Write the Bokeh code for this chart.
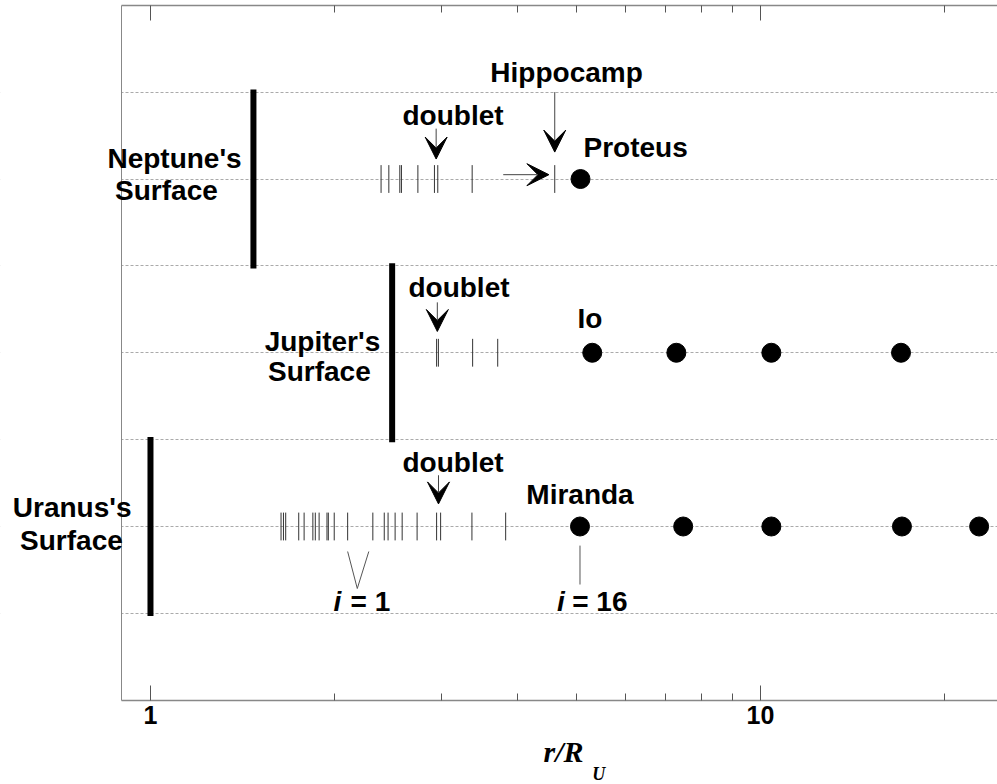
from bokeh.plotting import figure
from bokeh.models import (Range1d, FixedTicker, LogAxis, Label, Arrow, VeeHead,
                          ColumnDataSource, BoxAnnotation)
from bokeh.embed import file_html
from bokeh.resources import INLINE

# Orbital radii in units of the planet radius (log scale)
uranus_rings = [1.637, 1.652, 1.666, 1.750, 1.786, 1.846, 1.863, 1.890, 1.947,
                1.957, 2.001, 2.105, 2.315, 2.417, 2.452, 2.518, 2.586, 2.736,
                2.945, 2.990, 3.365, 3.822]
uranus_moons = [5.06, 7.47, 10.42, 17.06, 22.83]
jupiter_rings = [2.945, 2.965, 3.374, 3.709]
jupiter_moons = [5.30, 7.28, 10.42, 17.0]
neptune_rings = [2.388, 2.459, 2.563, 2.579, 2.744, 2.921, 2.958, 3.368, 4.60]
neptune_moons = [5.07]

planet_row = [0, 2, 4]
surface_r = [1.0, 2.49, 1.475]

doublet_r = [2.966, 2.953, 2.94]
hippocamp_r = 4.60

# plotted extent of the axes
R_MIN, R_MAX = 0.896, 30.0
ROW_MIN, ROW_MAX = -2, 6

TICK_HALF = 0.16
BAR_HALF = 1.03
FONT = "Liberation Sans"
FS = "28px"
DY = 0.11   # baseline tweak for all annotation text

p = figure(width=997, height=784, x_axis_type="log",
           x_range=Range1d(0.5677, 24.47), y_range=Range1d(-2.97, 6.055),
           output_backend="svg", toolbar_location=None,
           min_border_left=0, min_border_right=0,
           min_border_top=0, min_border_bottom=0)
p.outline_line_color = None
p.background_fill_color = "white"
p.border_fill_color = "white"

# grid: dashed row centres and row separators
p.xgrid.visible = False
p.ygrid.ticker = FixedTicker(ticks=[-1, 0, 1, 2, 3, 4, 5])
p.ygrid.grid_line_color = "#aaaaaa"
p.ygrid.grid_line_dash = "3 2"
p.ygrid.grid_line_width = 1
# blank the margin left of the axis
p.add_layout(BoxAnnotation(left=0.3, right=R_MIN, fill_color="white", fill_alpha=1,
                           line_color=None, level="underlay"))

# x axes (bottom with labels, top mirrored), ticks pointing inward
xt = FixedTicker(ticks=[1, 10], minor_ticks=[2, 3, 4, 5, 6, 7, 8, 9, 20])
bottom = p.xaxis[0]
bottom.ticker = xt
bottom.fixed_location = ROW_MIN
bottom.major_label_overrides = {1: "1", 10: "10"}
bottom.major_label_text_font = FONT
bottom.major_label_text_font_style = "bold"
bottom.major_label_text_font_size = "25px"
bottom.major_label_text_color = "black"
bottom.major_label_standoff = 6
top = LogAxis(ticker=xt, fixed_location=ROW_MAX, major_label_text_font_size="0px",
              major_label_standoff=0, major_label_overrides={1: "", 10: ""})
p.add_layout(top, "above")
for ax in [bottom, top]:
    ax.bounds = (R_MIN, R_MAX)
    ax.major_tick_in = 15
    ax.major_tick_out = 0
    ax.minor_tick_in = 7
    ax.minor_tick_out = 0
    ax.axis_line_color = "#888888"
    ax.axis_line_width = 1.5
    ax.major_tick_line_color = "#555555"
    ax.minor_tick_line_color = "#555555"

left = p.yaxis[0]
left.fixed_location = R_MIN
left.bounds = (ROW_MIN, ROW_MAX)
left.ticker = FixedTicker(ticks=[])
left.major_label_text_font_size = "0px"
left.major_tick_line_color = None
left.minor_tick_line_color = None
left.axis_line_color = "#888888"

# ring / small-moon ticks
def ticks(vals, row):
    src = ColumnDataSource(dict(x=vals, y0=[row - TICK_HALF] * len(vals),
                                y1=[row + TICK_HALF] * len(vals)))
    p.segment(x0="x", x1="x", y0="y0", y1="y1", source=src,
              line_color="#333333", line_width=1)

ticks(uranus_rings, 0)
ticks(jupiter_rings, 2)
ticks(neptune_rings, 4)

# large moons
for vals, row in [(uranus_moons, 0), (jupiter_moons, 2), (neptune_moons, 4)]:
    p.scatter(x=vals, y=[row] * len(vals), size=19, color="black")

# planetary surfaces
p.segment(x0=surface_r, x1=surface_r,
          y0=[r - BAR_HALF for r in planet_row],
          y1=[r + BAR_HALF for r in planet_row],
          line_color="black", line_width=6)

def label(x, y, text, align="left", style="bold", size=FS, font=FONT):
    p.add_layout(Label(x=x, y=y + DY, text=text, text_align=align,
                       text_baseline="alphabetic", text_font=font,
                       text_font_style=style, text_font_size=size,
                       text_color="black"))

def arrow(x0, y0, x1, y1):
    p.add_layout(Arrow(end=VeeHead(size=22, fill_color="black",
                                   line_color="black", line_width=1),
                       x_start=x0, y_start=y0, x_end=x1, y_end=y1,
                       line_color="#444444", line_width=1))

# surface labels
label(0.744, 0.107, "Uranus's", "center")
label(0.742, -0.276, "Surface", "center")
label(1.914, 2.016, "Jupiter's", "center")
label(1.892, 1.67, "Surface", "center")
label(1.095, 4.121, "Neptune's", "center")
label(1.062, 3.756, "Surface", "center")

# doublet arrows
label(2.589, 0.626, "doublet")
arrow(doublet_r[0], 0.59, doublet_r[0], 0.26)
label(2.648, 2.638, "doublet")
arrow(doublet_r[1], 2.58, doublet_r[1], 2.245)
label(2.589, 4.62, "doublet")
arrow(doublet_r[2], 4.58, doublet_r[2], 4.23)

# Hippocamp
label(4.81, 5.115, "Hippocamp", "center")
arrow(hippocamp_r, 5.0, hippocamp_r, 4.31)
arrow(3.787, 4.05, 4.50, 4.05)

# named moons
label(5.127, 4.251, "Proteus")
label(5.254, 2.289, "Io", "center")
label(uranus_moons[0], 0.253, "Miranda", "center")

# i = 1 bracket and i = 16 pointer
p.line(x=[2.105, 2.183, 2.280], y=[-0.288, -0.714, -0.288],
       line_color="#555555", line_width=1)
p.segment(x0=[uranus_moons[0]], x1=[uranus_moons[0]], y0=[-0.22], y1=[-0.668],
          line_color="#555555", line_width=1)
label(1.995, -0.976, "i", style="bold italic")
label(2.128, -0.976, "= 1")
label(4.64, -0.976, "i", style="bold italic")
label(4.913, -0.976, "= 16")

# axis title r/R_U
label(4.41, -2.70, "r/R", style="bold italic", size="30px", font="Liberation Serif")
label(5.30, -2.96, "U", style="bold italic", size="18px", font="Liberation Serif")

open("out.html", "w").write(file_html(p, INLINE))
